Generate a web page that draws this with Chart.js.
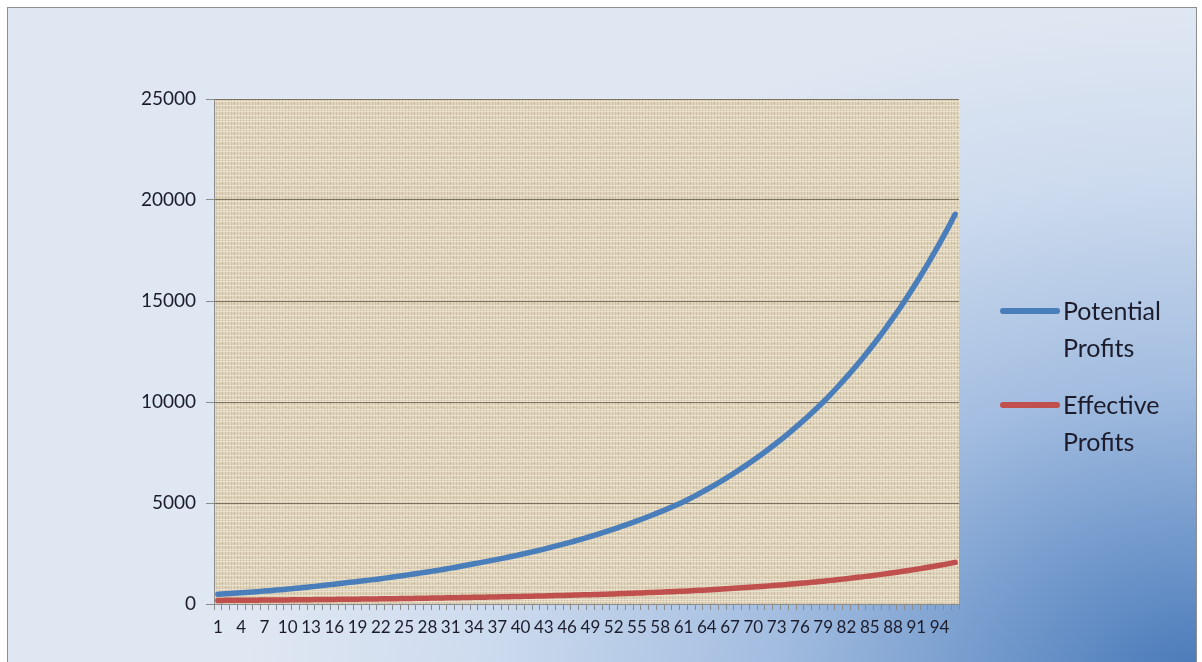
<!DOCTYPE html>
<html>
<head>
<meta charset="utf-8">
<script src="https://cdn.jsdelivr.net/npm/chart.js@4.4.1/dist/chart.umd.min.js"></script>
<style>
  html, body { margin:0; padding:0; background:#ffffff; width:1202px; height:662px; overflow:hidden; }
  #frame { position:absolute; left:7px; top:7px; width:1188px; height:680px; border:1px solid #8e8e8e;
    background: radial-gradient(ellipse 80% 100% at 100% 100%, #4677b7 0%, #6a93c8 18%, #a3bde0 45%, #cddbee 75%, #dfe7f2 100%); }
  #c { position:absolute; left:0; top:0; }
  .leg { position:absolute; font-family: Lato, "Open Sans", sans-serif; font-size:25px; color:#1c1c2c; line-height:37px; }
  .sw { position:absolute; height:6px; border-radius:3px; }
</style>
</head>
<body>
<div id="frame"></div>
<canvas id="c" width="1202" height="662"></canvas>
<div class="sw" style="left:1000px; top:308px; width:60px; background:#4a7ebb;"></div>
<div class="leg" style="left:1063px; top:292px;">Potential<br>Profits</div>
<div class="sw" style="left:1000px; top:402px; width:60px; background:#c0504d;"></div>
<div class="leg" style="left:1063px; top:386px;">Effective<br>Profits</div>
<script>
const categories = Array.from({length: 96}, (_, i) => String(i + 1));

const potentialProfits = [
  480, 504, 528, 554, 582, 610, 640, 672, 705,
  739, 775, 813, 852, 893, 937, 982, 1030,
  1072, 1115, 1160, 1206, 1255, 1306, 1358, 1413, 1470,
  1527, 1586, 1647, 1710, 1776, 1845, 1916, 1990,
  2060, 2133, 2208, 2285, 2366, 2449, 2535, 2624, 2716,
  2812, 2911, 3013, 3119, 3229, 3342,
  3460, 3582, 3707, 3838, 3973, 4113, 4257, 4407, 4562, 4722, 4888, 5060,
  5255, 5458, 5668, 5887, 6114, 6350, 6595, 6849, 7113, 7388, 7673, 7969, 8276, 8595, 8927, 9271, 9629, 10000,
  10394, 10804, 11230, 11672, 12132, 12610, 13107, 13624, 14161, 14719, 15299,
  15902, 16529, 17180, 17857, 18561, 19293
];

const effectiveProfits = [
  178, 180, 183, 185, 188, 191, 194, 197, 200,
  204, 207, 211, 215, 219, 224, 228, 233,
  237, 241, 246, 251, 255, 261, 266, 271, 277,
  283, 289, 295, 301, 308, 314, 322, 329,
  336, 343, 351, 359, 367, 375, 383, 392, 402,
  411, 421, 431, 442, 453, 464,
  476, 488, 501, 514, 527, 541, 556, 571, 586, 602, 619, 636,
  656, 676, 697, 719, 741, 765, 789, 815, 841, 869, 897, 927, 958, 990, 1023, 1057, 1093, 1130,
  1169, 1210, 1253, 1297, 1343, 1391, 1441, 1492, 1546, 1602, 1660,
  1720, 1783, 1848, 1916, 1986, 2059
];

const yTicks = [0, 5000, 10000, 15000, 20000, 25000];
const seriesNames = ['Potential Profits', 'Effective Profits'];

function makeTexture() {
  const p = document.createElement('canvas');
  p.width = 12; p.height = 10;
  const g = p.getContext('2d');
  g.fillStyle = '#e0d4bb';
  g.fillRect(0, 0, 12, 10);
  g.fillStyle = 'rgba(180,166,138,0.40)';
  for (let x = 0; x < 12; x += 3) g.fillRect(x, 0, 1, 10);
  g.fillStyle = 'rgba(245,240,228,0.55)';
  for (let y = 1; y < 10; y += 4) g.fillRect(0, y, 12, 1);
  g.fillStyle = 'rgba(165,152,128,0.35)';
  g.fillRect(5, 3, 2, 1); g.fillRect(9, 7, 2, 1); g.fillRect(1, 8, 1, 1);
  return p;
}

const plotBg = {
  id: 'plotBg',
  beforeDraw(chart) {
    const {ctx, chartArea: a} = chart;
    ctx.save();
    ctx.fillStyle = ctx.createPattern(makeTexture(), 'repeat');
    ctx.fillRect(a.left, a.top, a.right - a.left, a.bottom - a.top);
    ctx.restore();
  }
};

const fontY = {family: 'Lato, "Open Sans", sans-serif', size: 19};
const fontX = {family: 'Lato, "Open Sans", sans-serif', size: 17};

new Chart(document.getElementById('c'), {
  type: 'line',
  data: {
    labels: categories,
    datasets: [
      { label: seriesNames[0], data: potentialProfits, borderColor: '#4a7ebb', borderWidth: 5.5,
        pointRadius: 0, tension: 0.3, fill: false, order: 1, borderCapStyle: 'round' },
      { label: seriesNames[1], data: effectiveProfits, borderColor: '#c0504d', borderWidth: 5.5,
        pointRadius: 0, tension: 0.3, fill: false, order: 0, borderCapStyle: 'round' }
    ]
  },
  options: {
    responsive: false,
    animation: false,
    events: [],
    layout: { padding: { left: 0, right: 243, top: 99, bottom: 0 } },
    plugins: { legend: { display: false }, tooltip: { enabled: false } },
    scales: {
      x: {
        offset: true,
        grid: { offset: true, drawOnChartArea: false, tickLength: 6, color: '#8c8c8c' },
        border: { color: '#8c8c8c' },
        ticks: {
          autoSkip: false, maxRotation: 0, minRotation: 0, padding: 7,
          color: '#1c1c2c', font: fontX,
          callback: (v, i) => (i % 3 === 0 ? categories[i] : '')
        },
        afterFit(s) { s.height = 58; }
      },
      y: {
        min: 0, max: 25000,
        afterBuildTicks(s) { s.ticks = yTicks.map(v => ({value: v})); },
        grid: { color: '#7b7262', tickLength: 8, tickColor: '#8c8c8c' },
        border: { color: '#8c8c8c' },
        ticks: { color: '#1c1c2c', font: fontY, padding: 10, callback: v => String(v) },
        afterFit(s) { s.width = 214; }
      }
    }
  },
  plugins: [plotBg]
});
</script>
</body>
</html>
